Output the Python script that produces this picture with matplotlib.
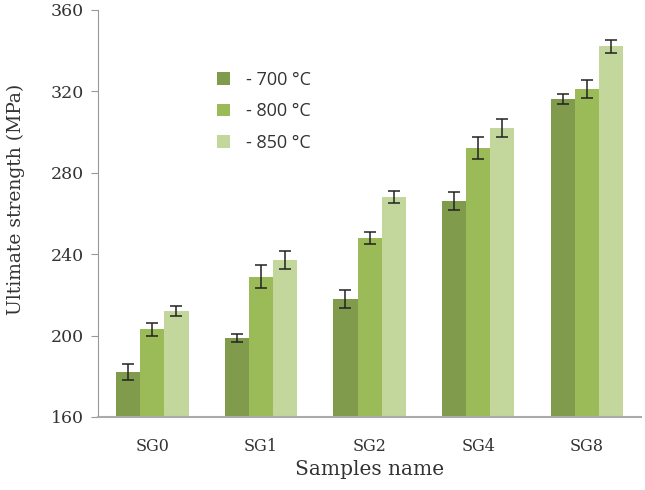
import numpy as np
import matplotlib
matplotlib.use("Agg")
from matplotlib import pyplot as plt

samples = ["SG0", "SG1", "SG2", "SG4", "SG8"]
labels = ["- 700 °C", "- 800 °C", "- 850 °C"]
s700 = [182, 199, 218, 266, 316]
s800 = [203, 229, 248, 292, 321]
s850 = [212, 237, 268, 302, 342]
e700 = [4.0, 2.0, 4.5, 4.5, 2.5]
e800 = [3.0, 5.5, 3.0, 5.5, 4.5]
e850 = [2.5, 4.5, 3.0, 4.5, 3.0]
colors = ["#7f9b4b", "#9bbb59", "#c3d69b"]

fig = plt.figure(figsize=(6.45, 4.9), dpi=100)
ax = fig.add_axes([0.152, 0.149, 0.842, 0.831])

x = np.arange(len(samples))
w = 0.222
for i, (vals, errs) in enumerate([(s700, e700), (s800, e800), (s850, e850)]):
    ax.bar(x + (i - 1) * w, vals, w, color=colors[i], label=labels[i],
           yerr=errs, capsize=4,
           error_kw=dict(ecolor="#222222", elinewidth=1.1, capthick=1.1))

ax.set_ylim(160, 360)
ax.set_yticks(range(160, 361, 40))
ax.set_xlim(-0.5, 4.5)
ax.set_xticks(x)
ax.set_xticklabels(samples)
ax.tick_params(axis="x", length=0, pad=15, labelsize=11.5)
ax.tick_params(axis="y", length=5, color="#999999", labelsize=12.5, pad=5)
for t in ax.get_xticklabels() + ax.get_yticklabels():
    t.set_family("DejaVu Serif")
    t.set_color("#333333")
for s in ["top", "right"]:
    ax.spines[s].set_visible(False)
ax.spines["left"].set_color("#999999")
ax.spines["bottom"].set_color("#aaaaaa")
ax.spines["bottom"].set_linewidth(1.5)

ax.set_ylabel("Ultimate strength (MPa)", family="DejaVu Serif",
              fontsize=13.5, color="#333333")
ax.yaxis.set_label_coords(-0.135, 0.535)
ax.set_xlabel("Samples name", family="DejaVu Serif",
              fontsize=14.5, color="#333333", labelpad=4)

leg = ax.legend(loc="upper left", bbox_to_anchor=(0.19, 0.89), frameon=False,
                handlelength=0.7, handleheight=0.7, handletextpad=0.9,
                labelspacing=0.75, prop={"family": "Open Sans", "size": 13})
for t in leg.get_texts():
    t.set_color("#333333")

plt.savefig("out.png", dpi=100)
